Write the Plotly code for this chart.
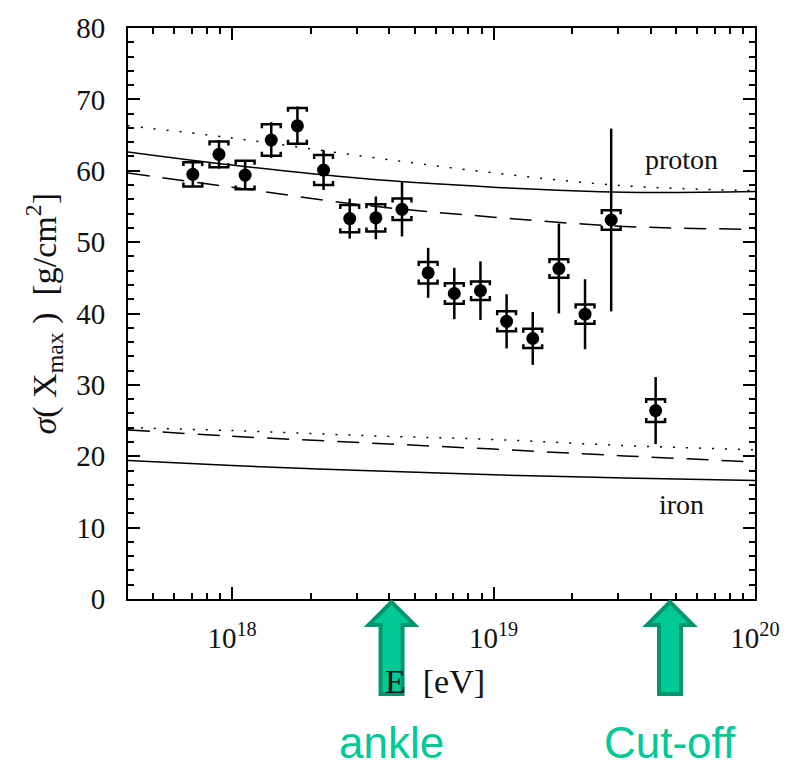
import numpy as np
import plotly.graph_objects as go

# --- measured sigma(Xmax) per energy bin ---
lgE = [17.85, 17.95, 18.05, 18.15, 18.25, 18.35, 18.45, 18.55, 18.65,
       18.75, 18.85, 18.95, 19.05, 19.15, 19.25, 19.35, 19.45, 19.62]
sigma = [59.5, 62.3, 59.4, 64.3, 66.3, 60.1, 53.3, 53.4, 54.6,
         45.7, 42.8, 43.2, 38.9, 36.5, 46.3, 39.9, 53.1, 26.4]
stat_err = [1.6, 2.0, 2.0, 2.5, 2.7, 2.8, 2.8, 3.0, 3.8,
            3.5, 3.6, 4.1, 3.8, 3.7, 6.3, 4.9, 12.8, 4.7]
sys_err = [1.7, 1.8, 2.0, 2.2, 2.5, 2.1, 1.9, 1.9, 1.5,
           1.5, 1.45, 1.3, 1.4, 1.35, 1.3, 1.35, 1.35, 1.6]

# --- air-shower model predictions ---
lgE_model = [17.6, 18.0, 18.5, 19.0, 19.5, 20.0]
proton_solid = [62.65, 60.8, 58.9, 57.7, 57.0, 57.1]
proton_dotted = [66.3, 64.6, 62.05, 59.7, 57.9, 57.2]
proton_dashed = [59.7, 57.7, 55.2, 53.5, 52.2, 51.8]
iron_solid = [19.4, 18.7, 18.0, 17.4, 16.95, 16.6]
iron_dotted = [24.0, 23.6, 22.9, 22.35, 21.5, 20.9]
iron_dashed = [23.7, 22.8, 21.9, 21.0, 20.05, 19.2]

# --- spectral features marked below the axis ---
feature_lgE = [18.61, 19.675]
feature_names = ["ankle", "Cut-off"]

x_ticks = [1e18, 1e19, 1e20]
x_ticktext = ["10<sup>18</sup>", "10<sup>19</sup>", "10<sup>20</sup>"]

SERIF = "Liberation Serif"
INK = "#111111"
GREEN = "#00C996"
GREEN_DARK = "#00966E"

E = 10 ** np.array(lgE)
Em = 10 ** np.array(lgE_model)
sig = np.array(sigma)
sy = np.array(sys_err)

fig = go.Figure()

for vals, dash in [(proton_dotted, "2px,11px"), (proton_solid, "solid"),
                   (proton_dashed, "22px,13px"), (iron_dotted, "2px,11px"),
                   (iron_dashed, "22px,13px"), (iron_solid, "solid")]:
    fig.add_trace(go.Scatter(
        x=Em, y=vals, mode="lines",
        line=dict(color="black", width=1.5, dash=dash, shape="spline"),
        hoverinfo="skip", showlegend=False))

# systematic-uncertainty brackets
hw = 0.036   # bracket half-width in decades
tk = 0.55    # bracket end-tick length in sigma units
bx, by = [], []
for e, s, d in zip(E, sig, sy):
    xl, xr = e * 10 ** (-hw), e * 10 ** hw
    top, bot = s + d, s - d
    bx += [xl, xl, xr, xr, None, xl, xl, xr, xr, None]
    by += [top - tk, top, top, top - tk, None, bot + tk, bot, bot, bot + tk, None]
fig.add_trace(go.Scatter(x=bx, y=by, mode="lines", line=dict(color="black", width=2.5),
                         hoverinfo="skip", showlegend=False))

# data points with statistical errors
fig.add_trace(go.Scatter(
    x=E, y=sigma, mode="markers",
    marker=dict(color="black", size=13),
    error_y=dict(type="data", array=stat_err, visible=True, color="black",
                 thickness=2.5, width=0),
    showlegend=False))

axis_common = dict(showline=True, linecolor="black", linewidth=2, mirror="ticks",
                   ticks="inside", tickcolor="black", tickwidth=2, ticklen=12,
                   showgrid=False, zeroline=False,
                   tickfont=dict(family=SERIF, size=29, color=INK))

minor_x = [k * 10.0 ** p for p in (17, 18, 19) for k in range(2, 10)]
fig.update_xaxes(type="log", range=[np.log10(4e17), 20], tickvals=x_ticks,
                 ticktext=x_ticktext, ticklabelstandoff=12,
                 minor=dict(ticks="inside", ticklen=6, tickwidth=2, tickcolor="black",
                            tickvals=minor_x),
                 **axis_common)
fig.update_yaxes(range=[0, 80], dtick=10, ticklabelstandoff=15,
                 minor=dict(ticks="inside", ticklen=6, tickwidth=2, tickcolor="black", dtick=2),
                 **axis_common)

ann = [
    dict(text="proton", x=19.72, y=61.55, xref="x", yref="y", yanchor="middle",
         showarrow=False, font=dict(family=SERIF, size=28, color=INK)),
    dict(text="iron", x=19.72, y=13.2, xref="x", yref="y", yanchor="middle",
         showarrow=False, font=dict(family=SERIF, size=28, color=INK)),
    dict(text="<i>σ</i>( X<sub>max</sub> )  [g/cm<sup>2</sup>]", x=-0.134, y=0.5,
         xref="paper", yref="paper", xanchor="center", yanchor="middle",
         textangle=-90, showarrow=False,
         font=dict(family=SERIF, size=34, color=INK)),
    dict(text="E  [eV]", x=0.489, y=-0.145, xref="paper", yref="paper",
         xanchor="center", yanchor="middle",
         showarrow=False, font=dict(family=SERIF, size=34, color=INK)),
]
shapes = []
for lx, name in zip(feature_lgE, feature_names):
    ex = 10 ** lx
    shapes.append(dict(
        type="path", xref="x", yref="paper", xsizemode="pixel", ysizemode="pixel",
        xanchor=ex, yanchor=0,
        path="M 0 -3 L -23 -26 L -11 -26 L -11 -95 L 11 -95 L 11 -26 L 23 -26 Z",
        fillcolor=GREEN, line=dict(color=GREEN_DARK, width=4), layer="above"))
    ann.append(dict(text=name, x=lx, y=-0.251, xref="x", yref="paper",
                    xanchor="center", yanchor="middle", showarrow=False,
                    font=dict(family="Liberation Sans", size=44, color=GREEN)))

fig.update_layout(width=792, height=768, margin=dict(l=128, r=30, t=18, b=169),
                  paper_bgcolor="white", plot_bgcolor="white",
                  annotations=ann, shapes=shapes)

fig.write_html("out.html")
